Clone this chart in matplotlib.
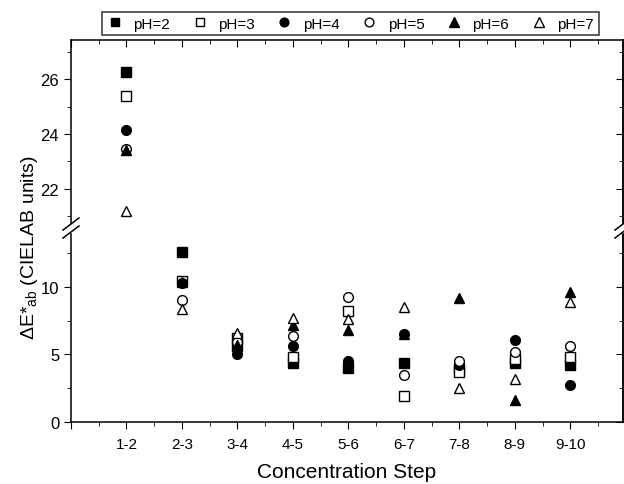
import numpy as np
import matplotlib.pyplot as plt
from matplotlib.lines import Line2D
from matplotlib.patches import Polygon

plt.rcParams['font.family'] = ['Liberation Sans', 'DejaVu Sans']
plt.rcParams['mathtext.fontset'] = 'custom'
plt.rcParams['mathtext.rm'] = 'Liberation Sans'

# concentration steps and delta E values per pH
steps = ['1-2', '2-3', '3-4', '4-5', '5-6', '6-7', '7-8', '8-9', '9-10']
ph2 = [26.25, 12.6, 5.6, 4.4, 4.0, 4.35, 3.9, 4.4, 4.2]
ph3 = [25.4, 10.45, 6.2, 4.8, 8.25, 1.9, 3.7, 4.7, 4.85]
ph4 = [24.15, 10.3, 5.0, 5.6, 4.55, 6.5, 4.2, 6.1, 2.75]
ph5 = [23.45, 9.0, 5.9, 6.4, 9.25, 3.45, 4.55, 5.2, 5.6]
ph6 = [23.4, 10.35, 5.7, 7.2, 6.8, 6.5, 9.2, 1.6, 9.6]
ph7 = [21.2, 8.4, 6.6, 7.7, 7.6, 8.5, 2.5, 3.2, 8.9]
labels = ['pH=2', 'pH=3', 'pH=4', 'pH=5', 'pH=6', 'pH=7']

pos = np.arange(1, len(steps) + 1)
W, H = 624, 485


def px(x, y):
    # pixel (from top-left) -> figure fraction
    return x / W, 1 - y / H


fig = plt.figure(figsize=(6.24, 4.85), dpi=100)
left, right = 71, 623
top, brk, bottom = 41, 229, 423
ax_hi = fig.add_axes([left / W, 1 - brk / H, (right - left) / W, (brk - top) / H])
ax_lo = fig.add_axes([left / W, 1 - bottom / H, (right - left) / W, (bottom - brk) / H])

series = [
    (ph2, 's', 'black', 6.5),
    (ph3, 's', 'white', 6.5),
    (ph4, 'o', 'black', 7),
    (ph5, 'o', 'white', 7),
    (ph6, '^', 'black', 7.5),
    (ph7, '^', 'white', 7.5),
]
for ax in (ax_hi, ax_lo):
    for (vals, m, fc, ms), lab in zip(series, labels):
        ax.plot(pos, vals, ls='none', marker=m, ms=ms, mfc=fc, mec='black',
                mew=1, label=lab)
    ax.set_xlim(0, 9.95)
    ax.set_xticks(np.arange(0, 10))
    ax.set_xticks(np.arange(0.5, 10, 1), minor=True)
    for s in ax.spines.values():
        s.set_linewidth(1.1)

ax_hi.set_ylim(20.58, 27.42)
ax_lo.set_ylim(0, 14.37)
ax_hi.spines['bottom'].set_visible(False)
ax_lo.spines['top'].set_visible(False)

ax_hi.set_yticks([22, 24, 26])
ax_hi.set_yticks([21, 23, 25, 27], minor=True)
ax_lo.set_yticks([0, 5, 10])
ax_lo.set_yticks([2.5, 7.5, 12.5], minor=True)

ax_hi.xaxis.tick_top()
ax_hi.tick_params(axis='x', which='both', direction='in', labeltop=False)
ax_hi.tick_params(axis='x', which='major', length=5)
ax_hi.tick_params(axis='x', which='minor', length=3)
ax_lo.set_xticklabels([''] + steps)
ax_lo.tick_params(axis='x', which='major', direction='out', length=5, labelsize=11, pad=6)
ax_lo.tick_params(axis='x', which='minor', direction='out', length=3)
for ax in (ax_hi, ax_lo):
    ax.tick_params(axis='y', which='major', direction='out', length=5, labelsize=12)
    ax.tick_params(axis='y', which='minor', direction='out', length=3)
    sec = ax.secondary_yaxis('right')
    sec.set_yticks(ax.get_yticks())
    sec.set_yticks(ax.get_yticks(minor=True), minor=True)
    sec.tick_params(axis='y', which='both', direction='in', labelright=False)
    sec.tick_params(axis='y', which='major', length=5)
    sec.tick_params(axis='y', which='minor', length=3)
    sec.spines['right'].set_linewidth(1.1)

# break marks on both side spines
for xs in (left, right):
    gap = Polygon([px(xs - 3, brk - 4), px(xs + 3, brk - 4),
                   px(xs + 3, brk + 4), px(xs - 3, brk + 4)],
                  closed=True, transform=fig.transFigure, color='white', zorder=5)
    fig.add_artist(gap)
    for dy in (-4, 4):
        x0, y0 = px(xs - 8, brk + dy + 6)
        x1, y1 = px(xs + 8, brk + dy - 6)
        fig.add_artist(Line2D([x0, x1], [y0, y1], transform=fig.transFigure,
                              color='black', lw=1.1, zorder=6))

ax_lo.set_xlabel('Concentration Step', fontsize=15, labelpad=8)
fig.text(0.047, 0.489, 'ΔE*$_{\\mathrm{ab}}$ (CIELAB units)', rotation=90,
         ha='center', va='center', fontsize=14)

handles, labs = ax_lo.get_legend_handles_labels()
leg = fig.legend(handles, labs, loc='center', bbox_to_anchor=(350.5 / W, 1 - 24.5 / H),
                 ncol=6, frameon=True, fancybox=False, edgecolor='black',
                 fontsize=11, handletextpad=0.7, columnspacing=1.45,
                 borderpad=0.3, handlelength=1.0, borderaxespad=0,
                 markerscale=0.9)
leg.get_frame().set_linewidth(1.1)

fig.savefig('out.png', dpi=100)
